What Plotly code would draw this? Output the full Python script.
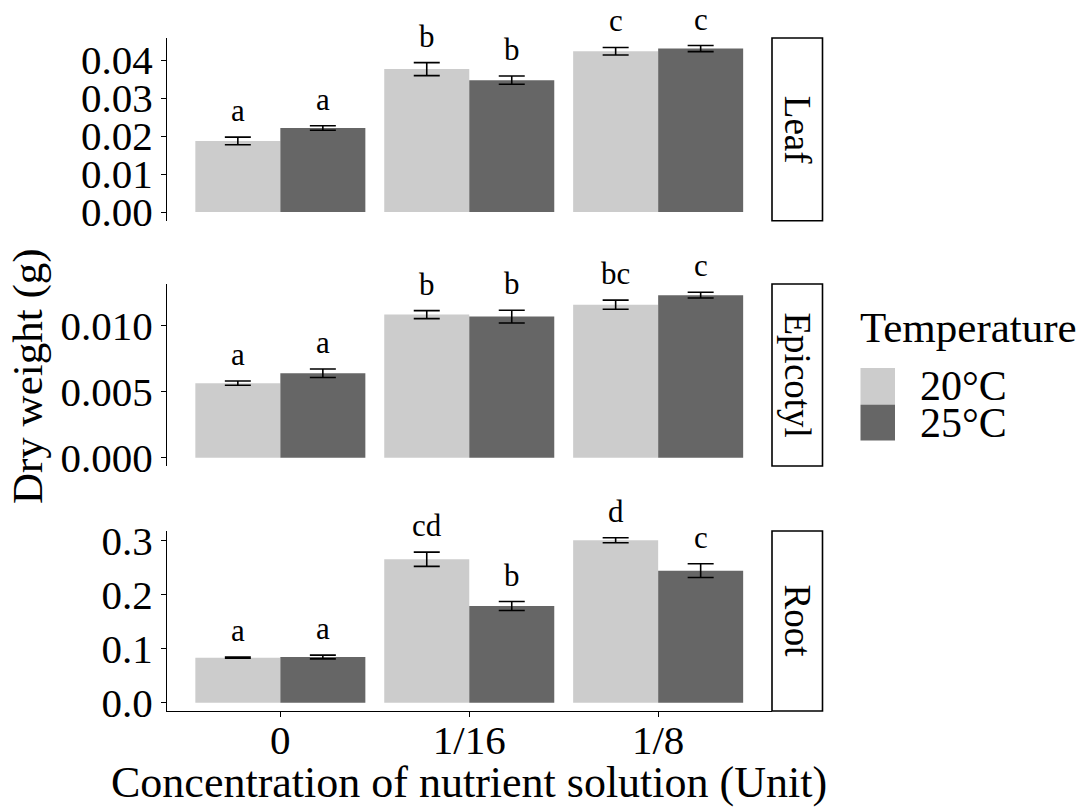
import plotly.graph_objects as go

# ---------------- data ----------------
concentrations = ["0", "1/16", "1/8"]
temperatures = ["20°C", "25°C"]
organs = ["Leaf", "Epicotyl", "Root"]

leaf_20 = [0.0187, 0.0376, 0.0423]
leaf_25 = [0.0221, 0.0347, 0.0430]
leaf_20_se = [0.0010, 0.0017, 0.0010]
leaf_25_se = [0.0006, 0.0011, 0.0008]
leaf_20_lab = ["a", "b", "c"]
leaf_25_lab = ["a", "b", "c"]

epi_20 = [0.00563, 0.01080, 0.01155]
epi_25 = [0.00638, 0.01065, 0.01227]
epi_20_se = [0.00016, 0.00030, 0.00034]
epi_25_se = [0.00032, 0.00048, 0.00022]
epi_20_lab = ["a", "b", "bc"]
epi_25_lab = ["a", "b", "c"]

root_20 = [0.0832, 0.2650, 0.3000]
root_25 = [0.0845, 0.1787, 0.2440]
root_20_se = [0.0010, 0.0132, 0.0046]
root_25_se = [0.0034, 0.0083, 0.0127]
root_20_lab = ["a", "cd", "d"]
root_25_lab = ["a", "b", "c"]

y_ranges = [[-0.00229, 0.04579], [-0.00062, 0.01311], [-0.0152, 0.3172]]
y_dtick = [0.01, 0.005, 0.1]
y_fmt = [".2f", ".3f", ".1f"]

colors = ["#CCCCCC", "#666666"]

# ---------------- layout constants ----------------
W, H = 1091, 808
FONT = "Liberation Serif, Times New Roman, serif"
x_left, x_right = 167 / W, 771.5 / W
rows_px = [(38, 220.7), (284, 466), (531, 711)]
domains = [[1 - b / H, 1 - t / H] for (t, b) in rows_px]
BARGAP = 0.1

panels = [
    (leaf_20, leaf_25, leaf_20_se, leaf_25_se, leaf_20_lab, leaf_25_lab),
    (epi_20, epi_25, epi_20_se, epi_25_se, epi_20_lab, epi_25_lab),
    (root_20, root_25, root_20_se, root_25_se, root_20_lab, root_25_lab),
]

fig = go.Figure()
annotations = []
shapes = []
xs = list(range(len(concentrations)))
half = (1 - BARGAP) / 4  # offset of each bar centre from category centre

for i, (m20, m25, s20, s25, l20, l25) in enumerate(panels):
    xa = "x" if i == 0 else f"x{i+1}"
    ya = "y" if i == 0 else f"y{i+1}"
    for k, (m, s, lab) in enumerate([(m20, s20, l20), (m25, s25, l25)]):
        fig.add_trace(go.Bar(
            x=xs, y=m, name=temperatures[k], xaxis=xa, yaxis=ya,
            marker=dict(color=colors[k], line=dict(width=0)),
            error_y=dict(type="data", array=s, visible=True,
                         color="black", thickness=1.6, width=13),
            showlegend=False, offsetgroup=str(k),
        ))
        for j in xs:
            annotations.append(dict(
                x=j + (2 * k - 1) * half, y=m[j] + s[j], xref=xa, yref=ya,
                text=lab[j], showarrow=False, yanchor="bottom", xanchor="center",
                yshift=7, font=dict(family=FONT, size=31, color="black"),
            ))
    # strip
    ydom = ya + " domain"
    shapes.append(dict(type="rect", xref="paper", yref=ydom,
                       x0=772 / W, x1=822.5 / W, y0=0, y1=1,
                       line=dict(color="black", width=1.6), fillcolor="white"))
    annotations.append(dict(x=797.5 / W, y=0.5, xref="paper", yref=ydom,
                            xanchor="center", yanchor="middle",
                            text=organs[i], textangle=90, showarrow=False,
                            font=dict(family=FONT, size=37, color="black")))

    yaxis = dict(domain=domains[i], range=y_ranges[i], dtick=y_dtick[i], tick0=0,
                 tickformat=y_fmt[i], showgrid=False, zeroline=False,
                 showline=True, linecolor="black", linewidth=1.3,
                 ticks="outside", ticklen=5, tickwidth=1.3, tickcolor="black",
                 tickfont=dict(family=FONT, size=41, color="black"),
                 anchor=xa, automargin=False)
    xaxis = dict(domain=[x_left, x_right], range=[-0.6, 2.6],
                 tickvals=xs, ticktext=concentrations, showgrid=False,
                 zeroline=False, anchor=ya, automargin=False)
    if i < 2:
        xaxis.update(showline=False, showticklabels=False, ticks="", matches="x3")
    else:
        xaxis.update(showline=True, linecolor="black", linewidth=1.3,
                     ticks="outside", ticklen=5, tickwidth=1.3, tickcolor="black",
                     ticklabelstandoff=-12,
                     tickfont=dict(family=FONT, size=41, color="black"))
    fig.update_layout(**{("yaxis" if i == 0 else f"yaxis{i+1}"): yaxis,
                         ("xaxis" if i == 0 else f"xaxis{i+1}"): xaxis})

# axis titles
annotations.append(dict(x=469 / W, y=1 - 782 / H, xref="paper", yref="paper",
                        xanchor="center", yanchor="middle",
                        text="Concentration of nutrient solution (Unit)", showarrow=False,
                        font=dict(family=FONT, size=44, color="black")))
annotations.append(dict(x=28 / W, y=1 - 376 / H, xref="paper", yref="paper",
                        xanchor="center", yanchor="middle",
                        text="Dry weight (g)", textangle=-90, showarrow=False,
                        font=dict(family=FONT, size=43, color="black")))

# legend (drawn manually to match large key swatches)
annotations.append(dict(x=858 / W, y=1 - 327 / H, xref="paper", yref="paper",
                        text="Temperature", showarrow=False, xanchor="left",
                        yanchor="middle",
                        font=dict(family=FONT, size=43, color="black")))
sw_top = [368, 404.5]
for k, t in enumerate(temperatures):
    shapes.append(dict(type="rect", xref="paper", yref="paper",
                       x0=860.5 / W, x1=895 / W,
                       y0=1 - (sw_top[k] + 36) / H, y1=1 - sw_top[k] / H,
                       line=dict(width=0), fillcolor=colors[k]))
    annotations.append(dict(x=918 / W, y=1 - (sw_top[k] + 18) / H, xref="paper",
                            yref="paper", text=t, showarrow=False, xanchor="left",
                            yanchor="middle",
                            font=dict(family=FONT, size=42, color="black")))

fig.update_layout(
    width=W, height=H, margin=dict(l=0, r=0, t=0, b=0, autoexpand=False),
    paper_bgcolor="white", plot_bgcolor="white",
    barmode="group", bargap=BARGAP, bargroupgap=0,
    showlegend=False, annotations=annotations, shapes=shapes,
    font=dict(family=FONT, color="black"),
)

fig.write_html("out.html")
